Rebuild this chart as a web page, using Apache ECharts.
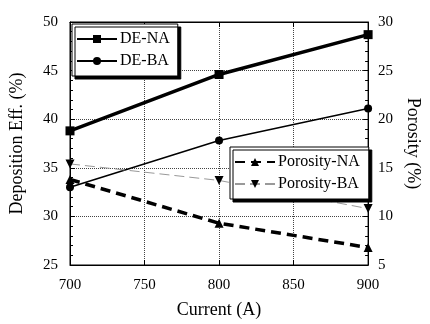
<!DOCTYPE html>
<html><head><meta charset="utf-8">
<script src="https://cdn.jsdelivr.net/npm/echarts@6/dist/echarts.min.js"></script>
<style>html,body{margin:0;padding:0;background:#fff}#c{width:430px;height:324px}</style>
</head><body><div id="c"></div>
<script>
const currents = [700, 800, 900];
const deNA = [38.8, 44.6, 48.7];
const deBA = [33.0, 37.8, 41.1];
const porNA = [13.8, 9.3, 6.8];
const porBA = [15.4, 13.7, 10.8];
const xTicks = [700, 750, 800, 850, 900];
const leftTicks = [25, 30, 35, 40, 45, 50];
const rightTicks = [5, 10, 15, 20, 25, 30];

const pairs = v => currents.map((c, i) => [c, v[i]]);
const F = 'Liberation Serif, Times New Roman, serif';
const chart = echarts.init(document.getElementById('c'), null, {renderer: 'canvas'});
const axisLine = {show: true, lineStyle: {color: '#000', width: 1}};
const split = {show: true, lineStyle: {color: '#444', type: 'dotted', width: 1}};
chart.setOption({
  animation: false,
  backgroundColor: '#fff',
  grid: {left: 70, right: 57, top: 22, bottom: 57, show: true, borderColor: '#000', borderWidth: 1},
  legend: [
    {data: ['DE-NA', 'DE-BA'], orient: 'vertical', left: 72, top: 24, itemWidth: 40, itemHeight: 10, itemGap: 6,
     padding: [7, 8, 7, 4], backgroundColor: '#fff', borderColor: '#000', borderWidth: 1,
     shadowColor: '#000', shadowOffsetX: 3, shadowOffsetY: 3, shadowBlur: 0,
     textStyle: {fontFamily: F, fontSize: 16, color: '#000', padding: [0, 0, 0, -2]}},
    {data: ['Porosity-NA', 'Porosity-BA'], orient: 'vertical', left: 230, top: 147, itemWidth: 40, itemHeight: 10, itemGap: 6,
     padding: [7, 9, 7, 4], backgroundColor: '#fff', borderColor: '#000', borderWidth: 1,
     shadowColor: '#000', shadowOffsetX: 3, shadowOffsetY: 3, shadowBlur: 0,
     textStyle: {fontFamily: F, fontSize: 16, color: '#000', padding: [0, 0, 0, -2]}}
  ],
  xAxis: [{
    type: 'value', min: 700, max: 900, interval: 50,
    name: 'Current (A)', nameLocation: 'middle', nameGap: 36,
    nameTextStyle: {fontFamily: F, fontSize: 18, color: '#000'},
    axisLine: axisLine, axisTick: {show: true, inside: true, length: 5, lineStyle: {color: '#000'}},
    axisLabel: {fontFamily: F, fontSize: 15, color: '#000', margin: 13,
      formatter: v => xTicks.includes(v) ? String(v) : ''},
    splitLine: split
  }, {
    type: 'value', min: 700, max: 900, interval: 50, position: 'top',
    axisLine: axisLine, axisTick: {show: true, inside: true, length: 5, lineStyle: {color: '#000'}},
    axisLabel: {show: false}, splitLine: {show: false}
  }],
  yAxis: [{
    type: 'value', min: 25, max: 50, interval: 5, position: 'left',
    name: 'Deposition Eff. (%)', nameLocation: 'middle', nameGap: 44,
    nameTextStyle: {fontFamily: F, fontSize: 18, color: '#000'},
    axisLine: axisLine, axisTick: {show: true, inside: true, length: 5, lineStyle: {color: '#000'}},
    minorTick: {show: true, splitNumber: 5, length: 3, lineStyle: {color: '#000'}},
    axisLabel: {fontFamily: F, fontSize: 15, color: '#000', margin: 12,
      formatter: v => leftTicks.includes(v) ? String(v) : ''},
    splitLine: split
  }, {
    type: 'value', min: 5, max: 30, interval: 5, position: 'right',
    name: 'Porosity (%)', nameLocation: 'middle', nameGap: 32, nameRotate: -90,
    nameTextStyle: {fontFamily: F, fontSize: 18, color: '#000'},
    axisLine: axisLine, axisTick: {show: true, inside: true, length: 5, lineStyle: {color: '#000'}},
    minorTick: {show: true, splitNumber: 5, length: 3, lineStyle: {color: '#000'}},
    axisLabel: {fontFamily: F, fontSize: 15, color: '#000', margin: 10,
      formatter: v => rightTicks.includes(v) ? String(v) : ''},
    splitLine: {show: false}
  }],
  series: [
    {name: 'DE-NA', type: 'line', yAxisIndex: 0, data: pairs(deNA), symbol: 'rect', symbolSize: 9,
     lineStyle: {color: '#000', width: 3.5}, itemStyle: {color: '#000'}},
    {name: 'DE-BA', type: 'line', yAxisIndex: 0, data: pairs(deBA), symbol: 'circle', symbolSize: 8,
     lineStyle: {color: '#000', width: 1.5}, itemStyle: {color: '#000'}},
    {name: 'Porosity-NA', type: 'line', yAxisIndex: 1, data: pairs(porNA), symbol: 'triangle', symbolSize: 9,
     lineStyle: {color: '#000', width: 3.5, type: [10, 6]}, itemStyle: {color: '#000'}},
    {name: 'Porosity-BA', type: 'line', yAxisIndex: 1, data: pairs(porBA), symbol: 'triangle', symbolRotate: 180, symbolSize: 9,
     lineStyle: {color: '#999', width: 1, type: [10, 5]}, itemStyle: {color: '#000'}}
  ]
});
</script></body></html>
